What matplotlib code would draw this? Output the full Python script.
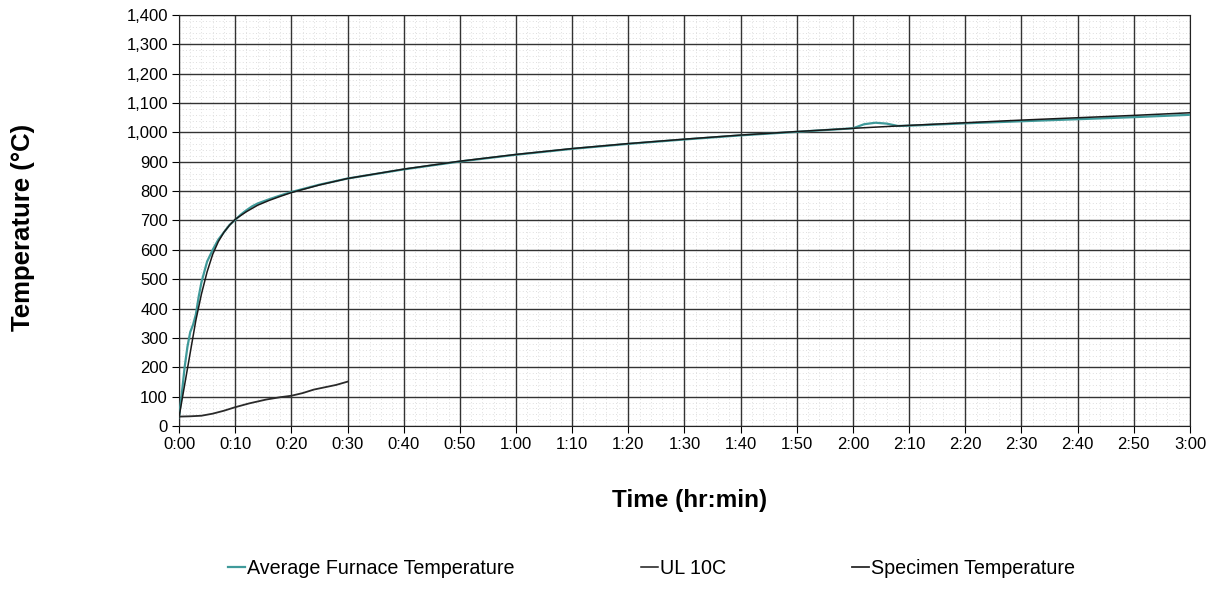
import matplotlib
matplotlib.use("Agg")
import matplotlib.pyplot as plt
from matplotlib.ticker import MultipleLocator, FixedLocator, FuncFormatter

plt.rcParams['font.family'] = ['Liberation Sans', 'DejaVu Sans']

# time in minutes, temperature in deg C
ul_time = [0, 1, 2, 3, 4, 5, 6, 7, 8, 9, 10, 12, 14, 16, 18, 20, 25, 30,
           40, 50, 60, 70, 80, 90, 100, 110, 120, 130, 140, 150, 160, 170, 180]
ul_temp = [30, 140, 250, 360, 450, 525, 585, 628, 660, 684, 704, 730, 752,
           768, 782, 795, 821, 843, 875, 902, 925, 945, 962, 977, 991, 1003,
           1014, 1024, 1033, 1042, 1050, 1058, 1067]

furnace_time = [0, 0.5, 1, 1.5, 2, 2.5, 3, 3.5, 4, 5, 6, 7, 8, 9, 10, 11, 12,
                13, 14, 16, 18, 20, 25, 30, 40, 50, 60, 70, 80, 90, 100, 110,
                120, 122, 124, 126, 128, 130, 140, 150, 160, 170, 180]
furnace_temp = [30, 110, 200, 270, 320, 345, 380, 440, 490, 560, 600, 635,
                660, 685, 702, 720, 735, 748, 758, 772, 785, 797, 822, 843,
                874, 901, 924, 944, 961, 976, 990, 1002, 1014, 1028, 1033,
                1030, 1022, 1023, 1031, 1038, 1045, 1052, 1060]

spec_time = [0, 2, 4, 6, 8, 10, 12.5, 15.5, 18, 20, 22, 24, 26, 28, 30]
spec_temp = [32, 33, 35, 42, 52, 64, 77, 90, 98, 103, 112, 124, 132, 140, 151]

fig = plt.figure(figsize=(12.12, 6.07), dpi=100)
ax = fig.add_axes([0.1477, 0.2982, 0.8341, 0.6771])

ax.plot(furnace_time, furnace_temp, color='#3f9a9a', lw=1.6, zorder=3,
        label='Average Furnace Temperature')
ax.plot(ul_time, ul_temp, color='#1a1a1a', lw=1.1, zorder=3, label='UL 10C')
ax.plot(spec_time, spec_temp, color='#2a2a2a', lw=1.3, zorder=3,
        label='Specimen Temperature')

ax.set_xlim(0, 180)
ax.set_ylim(0, 1400)
ax.xaxis.set_major_locator(MultipleLocator(10))
ax.xaxis.set_minor_locator(FixedLocator([m for m in range(0, 181, 2) if m % 10]))
ax.yaxis.set_major_locator(MultipleLocator(100))
ax.yaxis.set_minor_locator(FixedLocator([v for v in range(0, 1401, 20) if v % 100]))
ax.xaxis.set_major_formatter(FuncFormatter(lambda v, p: f"{int(v) // 60}:{int(v) % 60:02d}"))
ax.yaxis.set_major_formatter(FuncFormatter(lambda v, p: f"{int(v):,}"))

# minor grid from the axes, major grid drawn on top of it
ax.grid(which='minor', color='#d4d4d4', lw=0.6, ls=(0, (1, 3)))
ax.set_axisbelow(True)
ax.vlines(ax.get_xticks(), 0, 1400, color='#333333', lw=1.0, zorder=1)
ax.hlines(ax.get_yticks(), 0, 180, color='#333333', lw=1.0, zorder=1)
ax.set_xlim(0, 180)
ax.set_ylim(0, 1400)

ax.tick_params(which='major', labelsize=12, length=5, direction='out', pad=3)
ax.tick_params(which='minor', length=0)
for s in ax.spines.values():
    s.set_color('#222222')

fig.text(23 / 1212, 0.625, 'Temperature (°C)', rotation=90, fontsize=18.5,
         fontweight='bold', ha='center', va='center')
fig.text(690 / 1212, 1 - 500 / 607, 'Time (hr:min)', fontsize=17.5,
         fontweight='bold', ha='center', va='center')

fig.legend(loc='center', bbox_to_anchor=(0.5376, 0.064), ncol=3, frameon=False,
           fontsize=14.2, handlelength=0.85, handletextpad=0.1,
           columnspacing=6.4)

fig.savefig('out.png', dpi=100)
